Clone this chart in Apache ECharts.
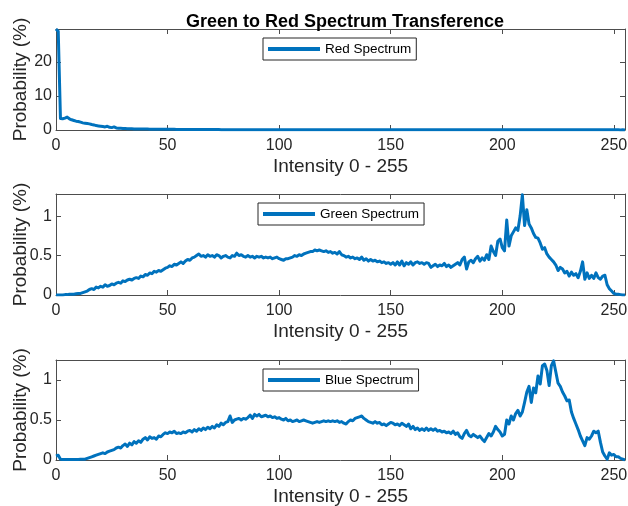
<!DOCTYPE html>
<html>
<head>
<meta charset="utf-8">
<script src="https://cdn.jsdelivr.net/npm/echarts@6/dist/echarts.min.js"></script>
<style>html,body{margin:0;padding:0;background:#fff}#c{width:628px;height:506px}</style>
</head>
<body>
<div id="c"></div>
<script>
const title = 'Green to Red Spectrum Transference';
const xName = 'Intensity 0 - 255';
const yName = 'Probability (%)';
const seriesNames = ['Red Spectrum', 'Green Spectrum', 'Blue Spectrum'];
const xTicks = [0, 50, 100, 150, 200, 250];
const yTicksRed = [0, 10, 20];
const yTicksGB = [0, 0.5, 1];

const red = [
29.7,29.0,3.4,3.3,3.5,3.8,3.3,3.0,2.8,2.6,
2.5,2.3,2.1,2.0,1.9,1.8,1.6,1.5,1.3,1.2,
1.1,1.0,0.9,1.1,0.8,0.7,0.9,0.6,0.55,0.5,
0.45,0.42,0.4,0.37,0.35,0.33,0.32,0.3,0.29,0.28,
0.27,0.26,0.25,0.25,0.24,0.23,0.23,0.22,0.21,0.21,
0.2,0.2,0.19,0.19,0.18,0.18,0.17,0.17,0.16,0.16,
0.15,0.15,0.15,0.14,0.14,0.14,0.13,0.13,0.13,0.13,
0.12,0.12,0.12,0.12,0.11,0.11,0.11,0.11,0.11,0.1,
0.1,0.1,0.1,0.1,0.1,0.1,0.09,0.09,0.09,0.09,
0.09,0.09,0.09,0.09,0.08,0.08,0.08,0.08,0.08,0.08,
0.08,0.08,0.09,0.08,0.08,0.07,0.08,0.08,0.07,0.08,
0.07,0.08,0.07,0.07,0.08,0.07,0.07,0.07,0.08,0.07,
0.07,0.07,0.06,0.07,0.07,0.06,0.07,0.07,0.06,0.07,
0.06,0.07,0.06,0.06,0.07,0.06,0.06,0.06,0.07,0.06,
0.06,0.06,0.06,0.07,0.06,0.06,0.06,0.06,0.06,0.07,
0.06,0.06,0.06,0.06,0.07,0.06,0.06,0.06,0.06,0.06,
0.06,0.07,0.06,0.06,0.06,0.06,0.07,0.06,0.06,0.06,
0.07,0.06,0.06,0.06,0.06,0.06,0.07,0.06,0.06,0.06,
0.06,0.06,0.07,0.06,0.06,0.06,0.06,0.07,0.06,0.06,
0.06,0.06,0.06,0.07,0.06,0.06,0.07,0.06,0.06,0.06,
0.07,0.06,0.06,0.06,0.07,0.06,0.06,0.06,0.06,0.06,
0.06,0.06,0.06,0.06,0.06,0.06,0.05,0.06,0.06,0.05,
0.06,0.05,0.06,0.05,0.05,0.06,0.05,0.05,0.05,0.05,
0.05,0.05,0.05,0.05,0.05,0.05,0.05,0.04,0.05,0.05,
0.05,0.04,0.05,0.04,0.04,0.05,0.04,0.04,0.04,0.04,
0.04,0.04,0.04,0.03,0.04,0.03
];

const green = [
0,0,0,0,0.005,0.005,0.01,0.01,0.01,0.015,
0.02,0.02,0.03,0.04,0.05,0.07,0.08,0.07,0.1,0.09,
0.11,0.1,0.13,0.11,0.12,0.14,0.13,0.15,0.16,0.15,
0.18,0.17,0.19,0.2,0.19,0.21,0.22,0.21,0.24,0.23,
0.26,0.25,0.28,0.27,0.3,0.29,0.31,0.3,0.32,0.34,
0.35,0.37,0.36,0.39,0.38,0.4,0.42,0.4,0.43,0.45,
0.44,0.47,0.48,0.5,0.52,0.49,0.5,0.48,0.51,0.49,
0.5,0.48,0.51,0.5,0.47,0.49,0.5,0.48,0.47,0.5,
0.49,0.53,0.5,0.51,0.49,0.48,0.5,0.48,0.49,0.47,
0.49,0.48,0.49,0.47,0.48,0.47,0.48,0.46,0.47,0.48,
0.46,0.45,0.44,0.46,0.46,0.47,0.48,0.5,0.49,0.51,
0.5,0.52,0.53,0.54,0.55,0.55,0.57,0.56,0.57,0.56,
0.55,0.56,0.54,0.55,0.53,0.54,0.52,0.55,0.51,0.5,
0.48,0.49,0.47,0.48,0.46,0.47,0.45,0.48,0.44,0.46,
0.43,0.45,0.43,0.44,0.42,0.43,0.41,0.42,0.4,0.41,
0.39,0.41,0.38,0.42,0.38,0.43,0.37,0.41,0.39,0.42,
0.38,0.41,0.42,0.4,0.41,0.39,0.41,0.4,0.35,0.37,
0.39,0.36,0.38,0.37,0.4,0.36,0.38,0.35,0.37,0.39,
0.41,0.38,0.45,0.48,0.33,0.42,0.44,0.41,0.46,0.49,
0.43,0.47,0.44,0.51,0.45,0.62,0.55,0.5,0.68,0.71,
0.6,0.56,0.95,0.62,0.75,0.8,0.85,0.82,1.0,1.27,
0.88,1.08,0.9,0.85,0.78,0.73,0.72,0.66,0.58,0.6,
0.52,0.48,0.45,0.42,0.38,0.31,0.35,0.33,0.28,0.3,
0.24,0.29,0.25,0.27,0.22,0.3,0.42,0.2,0.28,0.21,
0.25,0.21,0.28,0.22,0.2,0.24,0.25,0.13,0.08,0.05,
0.02,0.01,0.01,0.005,0,0
];

const blue = [
0.05,0.06,0.01,0.005,0.005,0.005,0.005,0.005,0.005,0.005,
0.005,0.01,0.01,0.01,0.02,0.03,0.04,0.05,0.06,0.07,
0.08,0.09,0.08,0.1,0.11,0.12,0.13,0.15,0.16,0.15,
0.18,0.2,0.17,0.21,0.19,0.23,0.21,0.24,0.22,0.26,
0.28,0.25,0.29,0.27,0.28,0.26,0.3,0.29,0.32,0.34,
0.33,0.35,0.34,0.36,0.33,0.34,0.33,0.35,0.34,0.36,
0.37,0.35,0.38,0.36,0.39,0.37,0.4,0.38,0.41,0.39,
0.42,0.4,0.44,0.42,0.46,0.44,0.47,0.48,0.55,0.47,
0.5,0.51,0.52,0.5,0.52,0.51,0.53,0.56,0.52,0.57,
0.55,0.57,0.54,0.55,0.56,0.54,0.55,0.53,0.54,0.52,
0.53,0.51,0.5,0.52,0.49,0.5,0.48,0.49,0.5,0.48,
0.49,0.5,0.49,0.48,0.47,0.46,0.47,0.48,0.47,0.48,
0.49,0.48,0.49,0.48,0.49,0.48,0.49,0.47,0.48,0.46,
0.45,0.48,0.5,0.49,0.52,0.53,0.54,0.55,0.52,0.5,
0.48,0.47,0.46,0.48,0.46,0.47,0.44,0.45,0.43,0.45,
0.47,0.46,0.44,0.45,0.43,0.46,0.44,0.42,0.45,0.39,
0.42,0.38,0.4,0.37,0.39,0.37,0.4,0.37,0.39,0.37,
0.39,0.36,0.37,0.35,0.36,0.34,0.35,0.33,0.36,0.32,
0.34,0.29,0.27,0.33,0.37,0.31,0.29,0.32,0.3,0.28,
0.3,0.26,0.23,0.28,0.33,0.3,0.35,0.42,0.38,0.35,
0.3,0.32,0.5,0.45,0.55,0.5,0.58,0.62,0.55,0.6,
0.72,0.85,0.92,0.72,0.9,0.84,1.05,0.95,1.18,1.2,
1.12,0.93,1.18,1.24,1.1,0.96,0.92,0.85,0.8,0.74,
0.75,0.6,0.52,0.45,0.38,0.3,0.24,0.18,0.28,0.26,
0.3,0.36,0.34,0.36,0.22,0.1,0.05,0.01,0.09,0.06,
0.07,0.04,0.04,0.02,0.01,0
];

const intensity = red.map((_, i) => i);
const yMax = [29.7, 1.28, 1.25];
const yInterval = [10, 0.5, 0.5];
const yTickLists = [yTicksRed, yTicksGB, yTicksGB];
const allData = [red, green, blue];

const FONT = '"Liberation Sans", Arial, sans-serif';
const AXC = '#4d4d4d';
const TXT = '#262626';
const LINE = '#0072BD';

const grids = [
  {left: 56, right: 3, top: 29, height: 101, containLabel: false, outerBoundsMode: 'none'},
  {left: 56, right: 3, top: 194, height: 101, containLabel: false, outerBoundsMode: 'none'},
  {left: 56, right: 3, top: 360, height: 100, containLabel: false, outerBoundsMode: 'none'}
];
const legendPos = [{left: 263, top: 38}, {left: 258, top: 203}, {left: 263, top: 369}];

const xAxes = [], yAxes = [], series = [], legends = [];
for (let k = 0; k < 3; k++) {
  const tickSet = new Set(xTicks);
  xAxes.push({
    type: 'value', gridIndex: k, min: 0, max: 255, interval: 50, position: 'bottom',
    name: xName, nameLocation: 'middle', nameGap: 27, nameMoveOverlap: false,
    nameTextStyle: {fontFamily: FONT, fontSize: 19, color: TXT},
    axisLine: {show: true, onZero: false, lineStyle: {color: AXC, width: 1}},
    axisTick: {show: true, inside: true, length: 5, lineStyle: {color: AXC}},
    axisLabel: {fontFamily: FONT, fontSize: 16, color: TXT, margin: 8,
      formatter: v => tickSet.has(v) ? String(v) : ''},
    splitLine: {show: false}
  });
  xAxes.push({
    type: 'value', gridIndex: k, min: 0, max: 255, interval: 50, position: 'top',
    axisLine: {show: true, onZero: false, lineStyle: {color: AXC, width: 1}},
    axisTick: {show: true, inside: true, length: 5, lineStyle: {color: AXC}},
    axisLabel: {show: false}, splitLine: {show: false}
  });
  const ySet = new Set(yTickLists[k]);
  yAxes.push({
    type: 'value', gridIndex: k, min: 0, max: yMax[k], interval: yInterval[k], position: 'left',
    name: yName, nameLocation: 'middle', nameGap: 26, nameRotate: 90, nameMoveOverlap: false,
    nameTextStyle: {fontFamily: FONT, fontSize: 19, color: TXT},
    axisLine: {show: true, onZero: false, lineStyle: {color: AXC, width: 1}},
    axisTick: {show: true, inside: true, length: 5, lineStyle: {color: AXC}},
    axisLabel: {fontFamily: FONT, fontSize: 16, color: TXT, margin: 4,
      formatter: v => ySet.has(Math.round(v * 1000) / 1000) ? String(Math.round(v * 1000) / 1000) : ''},
    splitLine: {show: false}
  });
  yAxes.push({
    type: 'value', gridIndex: k, min: 0, max: yMax[k], interval: yInterval[k], position: 'right',
    axisLine: {show: true, onZero: false, lineStyle: {color: AXC, width: 1}},
    axisTick: {show: true, inside: true, length: 5, lineStyle: {color: AXC}},
    axisLabel: {show: false}, splitLine: {show: false}
  });
  series.push({
    name: seriesNames[k], type: 'line', xAxisIndex: 2 * k, yAxisIndex: 2 * k,
    data: allData[k].map((v, i) => [intensity[i], v]),
    showSymbol: false, symbol: 'none', clip: true,
    lineStyle: {color: LINE, width: 3, join: 'round'}, itemStyle: {color: LINE}
  });
  legends.push({
    data: [seriesNames[k]], left: legendPos[k].left, top: legendPos[k].top,
    orient: 'horizontal', icon: 'rect', itemWidth: 52, itemHeight: 4,
    padding: [4, 5, 4, 5], borderColor: '#262626', borderWidth: 1, backgroundColor: '#fff',
    textStyle: {fontFamily: FONT, fontSize: 13.5, color: '#000'}, selectedMode: false
  });
}

const chart = echarts.init(document.getElementById('c'), null, {renderer: 'canvas'});
chart.setOption({
  animation: false,
  backgroundColor: '#fff',
  title: {text: title, left: 340, top: 8, textAlign: 'center',
    textStyle: {fontFamily: FONT, fontSize: 18, fontWeight: 'bold', color: '#000'}},
  grid: grids,
  xAxis: xAxes,
  yAxis: yAxes,
  legend: legends,
  series: series
});
</script>
</body>
</html>
